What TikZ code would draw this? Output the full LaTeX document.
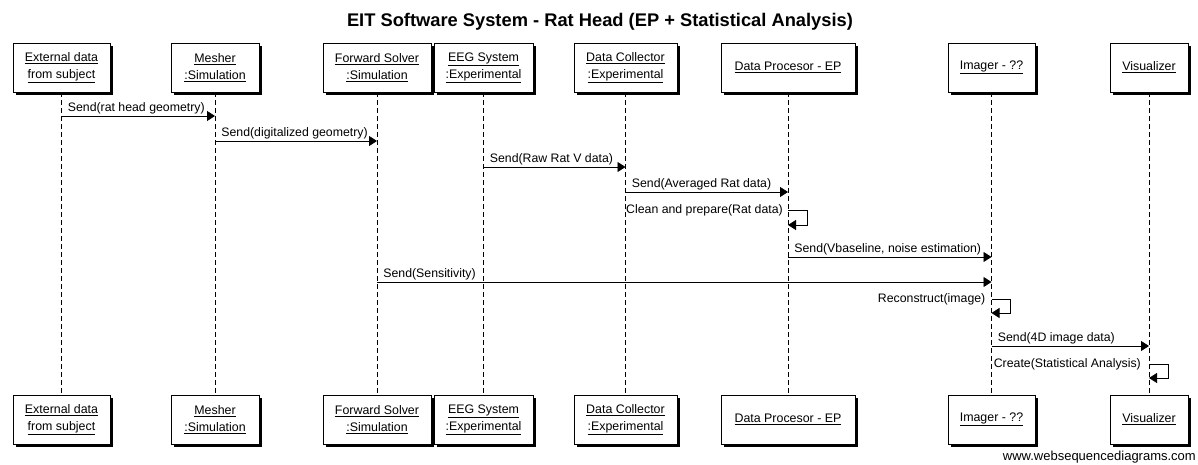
\documentclass[tikz,border=0pt]{standalone}
\usepackage{fontspec}
\setmainfont{Liberation Sans}
\usetikzlibrary{arrows.meta,shadows,positioning}
\newcommand{\pname}[1]{\underline{#1}}
\tikzset{
  actor/.style={draw, fill=white, line width=0.9pt, minimum height=49pt,
    align=center, inner sep=2pt, font=\fontsize{12.4}{17}\selectfont,
    drop shadow={shadow xshift=3pt, shadow yshift=-3pt, fill=black, opacity=1}},
  life/.style={line width=0.7pt, dash pattern=on 5pt off 3pt},
  msg/.style={line width=0.8pt, -{Triangle[length=8pt,width=10pt]}},
  lbl/.style={font=\fontsize{12.3}{14}\selectfont, inner sep=1pt}
}
\begin{document}
\begin{tikzpicture}[x=1pt,y=-1pt]
		\useasboundingbox (0,0) rectangle (1198,465);
		\node[font=\bfseries\fontsize{18.3}{20}\selectfont] (title) at (600,22) {EIT Software System - Rat Head (EP + Statistical Analysis)};
		%%%%% participants (top)
		\node[actor, minimum width=97pt] (ext) at (61.5,67.5) {\pname{External data}\\\pname{from subject}};
		\node[actor, minimum width=88pt] (mesh) at (215,67.5) {\pname{Mesher}\\\pname{:Simulation}};
		\node[actor, minimum width=108pt] (fwd) at (377,67.5) {\pname{Forward Solver}\\\pname{:Simulation}};
		\node[actor, minimum width=99pt] (eeg) at (483.5,67.5) {\pname{EEG System}\\\pname{:Experimental}};
		\node[actor, minimum width=103pt] (coll) at (625.5,67.5) {\pname{Data Collector}\\\pname{:Experimental}};
		\node[actor, minimum width=134pt] (proc) at (788,67.5) {\pname{Data Procesor - EP}};
		\node[actor, minimum width=87pt] (img) at (991.5,67.5) {\pname{Imager - ??}};
		\node[actor, minimum width=78pt] (vis) at (1149,67.5) {\pname{Visualizer}};
		%%%%% participants (bottom)
		\node[actor, minimum width=97pt] (extB) at (61.5,419.5) {\pname{External data}\\\pname{from subject}};
		\node[actor, minimum width=88pt] (meshB) at (215,419.5) {\pname{Mesher}\\\pname{:Simulation}};
		\node[actor, minimum width=108pt] (fwdB) at (377,419.5) {\pname{Forward Solver}\\\pname{:Simulation}};
		\node[actor, minimum width=99pt] (eegB) at (483.5,419.5) {\pname{EEG System}\\\pname{:Experimental}};
		\node[actor, minimum width=103pt] (collB) at (625.5,419.5) {\pname{Data Collector}\\\pname{:Experimental}};
		\node[actor, minimum width=134pt] (procB) at (788,419.5) {\pname{Data Procesor - EP}};
		\node[actor, minimum width=87pt] (imgB) at (991.5,419.5) {\pname{Imager - ??}};
		\node[actor, minimum width=78pt] (visB) at (1149,419.5) {\pname{Visualizer}};
		%%%%% lifelines
		\foreach \p in {ext,mesh,fwd,eeg,coll,proc,img,vis}
			\draw[life] (\p.south) -- (\p B.north);
		%%%%% messages
		\draw[msg] (ext |- 0,116) -- node[lbl, pos=0, anchor=south west, xshift=5pt, yshift=1pt] {Send(rat head geometry)} (mesh |- 0,116);
		\draw[msg] (mesh |- 0,141) -- node[lbl, pos=0, anchor=south west, xshift=5pt, yshift=1pt] {Send(digitalized geometry)} (fwd |- 0,141);
		\draw[msg] (eeg |- 0,167) -- node[lbl, pos=0, anchor=south west, xshift=5pt, yshift=1pt] {Send(Raw Rat V data)} (coll |- 0,167);
		\draw[msg] (coll |- 0,192) -- node[lbl, pos=0, anchor=south west, xshift=5pt, yshift=1pt] {Send(Averaged Rat data)} (proc |- 0,192);
		% self: clean
		\coordinate (c1) at (proc |- 0,210);
		\coordinate (c2) at (proc |- 0,225);
		\node[lbl, anchor=east, xshift=-4pt] (cleanlbl) at (c1) {Clean and prepare(Rat data)};
		\draw[msg] (c1) -- ++(19,0) |- (c2);
		\draw[msg] (proc |- 0,257) -- node[lbl, pos=0, anchor=south west, xshift=5pt, yshift=1pt] {Send(Vbaseline, noise estimation)} (img |- 0,257);
		\draw[msg] (fwd |- 0,282) -- node[lbl, pos=0, anchor=south west, xshift=5pt, yshift=1pt] {Send(Sensitivity)} (img |- 0,282);
		% self: reconstruct
		\coordinate (r1) at (img |- 0,299);
		\coordinate (r2) at (img |- 0,313);
		\node[lbl, anchor=east, xshift=-5pt] (reclbl) at (r1) {Reconstruct(image)};
		\draw[msg] (r1) -- ++(19,0) |- (r2);
		\draw[msg] (img |- 0,346) -- node[lbl, pos=0, anchor=south west, xshift=5pt, yshift=1pt] {Send(4D image data)} (vis |- 0,346);
		% self: statistics
		\coordinate (s1) at (vis |- 0,364);
		\coordinate (s2) at (vis |- 0,378);
		\node[lbl, anchor=east, xshift=-7pt] (statlbl) at (s1) {Create(Statistical Analysis)};
		\draw[msg] (s1) -- ++(19,0) |- (s2);
		%%%%% watermark
		\node[font=\fontsize{13}{15}\selectfont, anchor=east, inner sep=0pt] (wsd) at (1196,457) {www.websequencediagrams.com};
\end{tikzpicture}
\end{document}
